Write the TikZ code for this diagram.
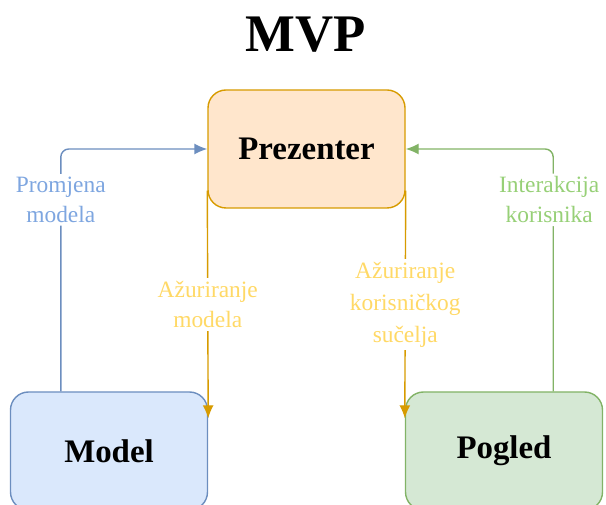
\documentclass[tikz,border=0pt]{standalone}
\usepackage{fontspec}
\setmainfont{Liberation Serif}
\usetikzlibrary{arrows.meta,calc,positioning}

\definecolor{prezfill}{HTML}{FFE6CC}
\definecolor{prezdraw}{HTML}{D79B00}
\definecolor{modelfill}{HTML}{DAE8FC}
\definecolor{modeldraw}{HTML}{6C8EBF}
\definecolor{pogledfill}{HTML}{D5E8D4}
\definecolor{pogleddraw}{HTML}{82B366}
\definecolor{modeltext}{HTML}{7EA6E0}
\definecolor{pogledtext}{HTML}{97D077}
\definecolor{preztext}{HTML}{FFD966}

\begin{document}
\begin{tikzpicture}[>={Latex[length=13bp,width=11bp]},line width=1.4bp]
 \tikzstyle{every box}=[rectangle,rounded corners=18bp,minimum width=197bp,minimum height=118bp,
   font=\fontsize{33}{38}\selectfont\bfseries]
 \tikzstyle{every lbl}=[fill=white,align=center,inner sep=3bp,font=\fontsize{23.5}{30}\selectfont]
 \useasboundingbox (0,0) rectangle (606bp,505bp);
 \clip (0,0) rectangle (606bp,505bp);

 \node (title) at (306bp,470bp) {\fontsize{53}{60}\selectfont\bfseries MVP};

 \node (prez) at (306.5bp,356bp) [every box,draw=prezdraw,fill=prezfill] {Prezenter};
 \node (model) at (109bp,54bp) [every box,draw=modeldraw,fill=modelfill] {Model};
 \node (pogled) at (504bp,54bp) [every box,draw=pogleddraw,fill=pogledfill] {Pogled};

 % model -> prezenter, pogled -> prezenter
 \draw [->,modeldraw,rounded corners=8bp] ($(model.north west)+(51bp,0)$) |- (prez.west)
 	node[pos=0.395,every lbl,text=modeltext] (promjena) {Promjena\\modela};
 \draw [->,pogleddraw,rounded corners=8bp] ($(pogled.north east)+(-50bp,0)$) |- (prez.east)
 	node[pos=0.395,xshift=-4bp,every lbl,text=pogledtext] (interakcija) {Interakcija\\korisnika};

 % prezenter -> model, prezenter -> pogled
 \draw [->,prezdraw] ($(prez.south west)+(0,18bp)$) -- ($(model.north east)+(0,-27bp)$)
 	node[midway,every lbl,text=preztext] (azmodel) {Ažuriranje\\modela};
 \draw [->,prezdraw] ($(prez.south east)+(0,18bp)$) -- ($(pogled.north west)+(0,-27bp)$)
 	node[midway,every lbl,text=preztext,font=\fontsize{23.5}{32}\selectfont] (azsucelje) {Ažuriranje\\korisničkog\\sučelja};
\end{tikzpicture}
\end{document}
